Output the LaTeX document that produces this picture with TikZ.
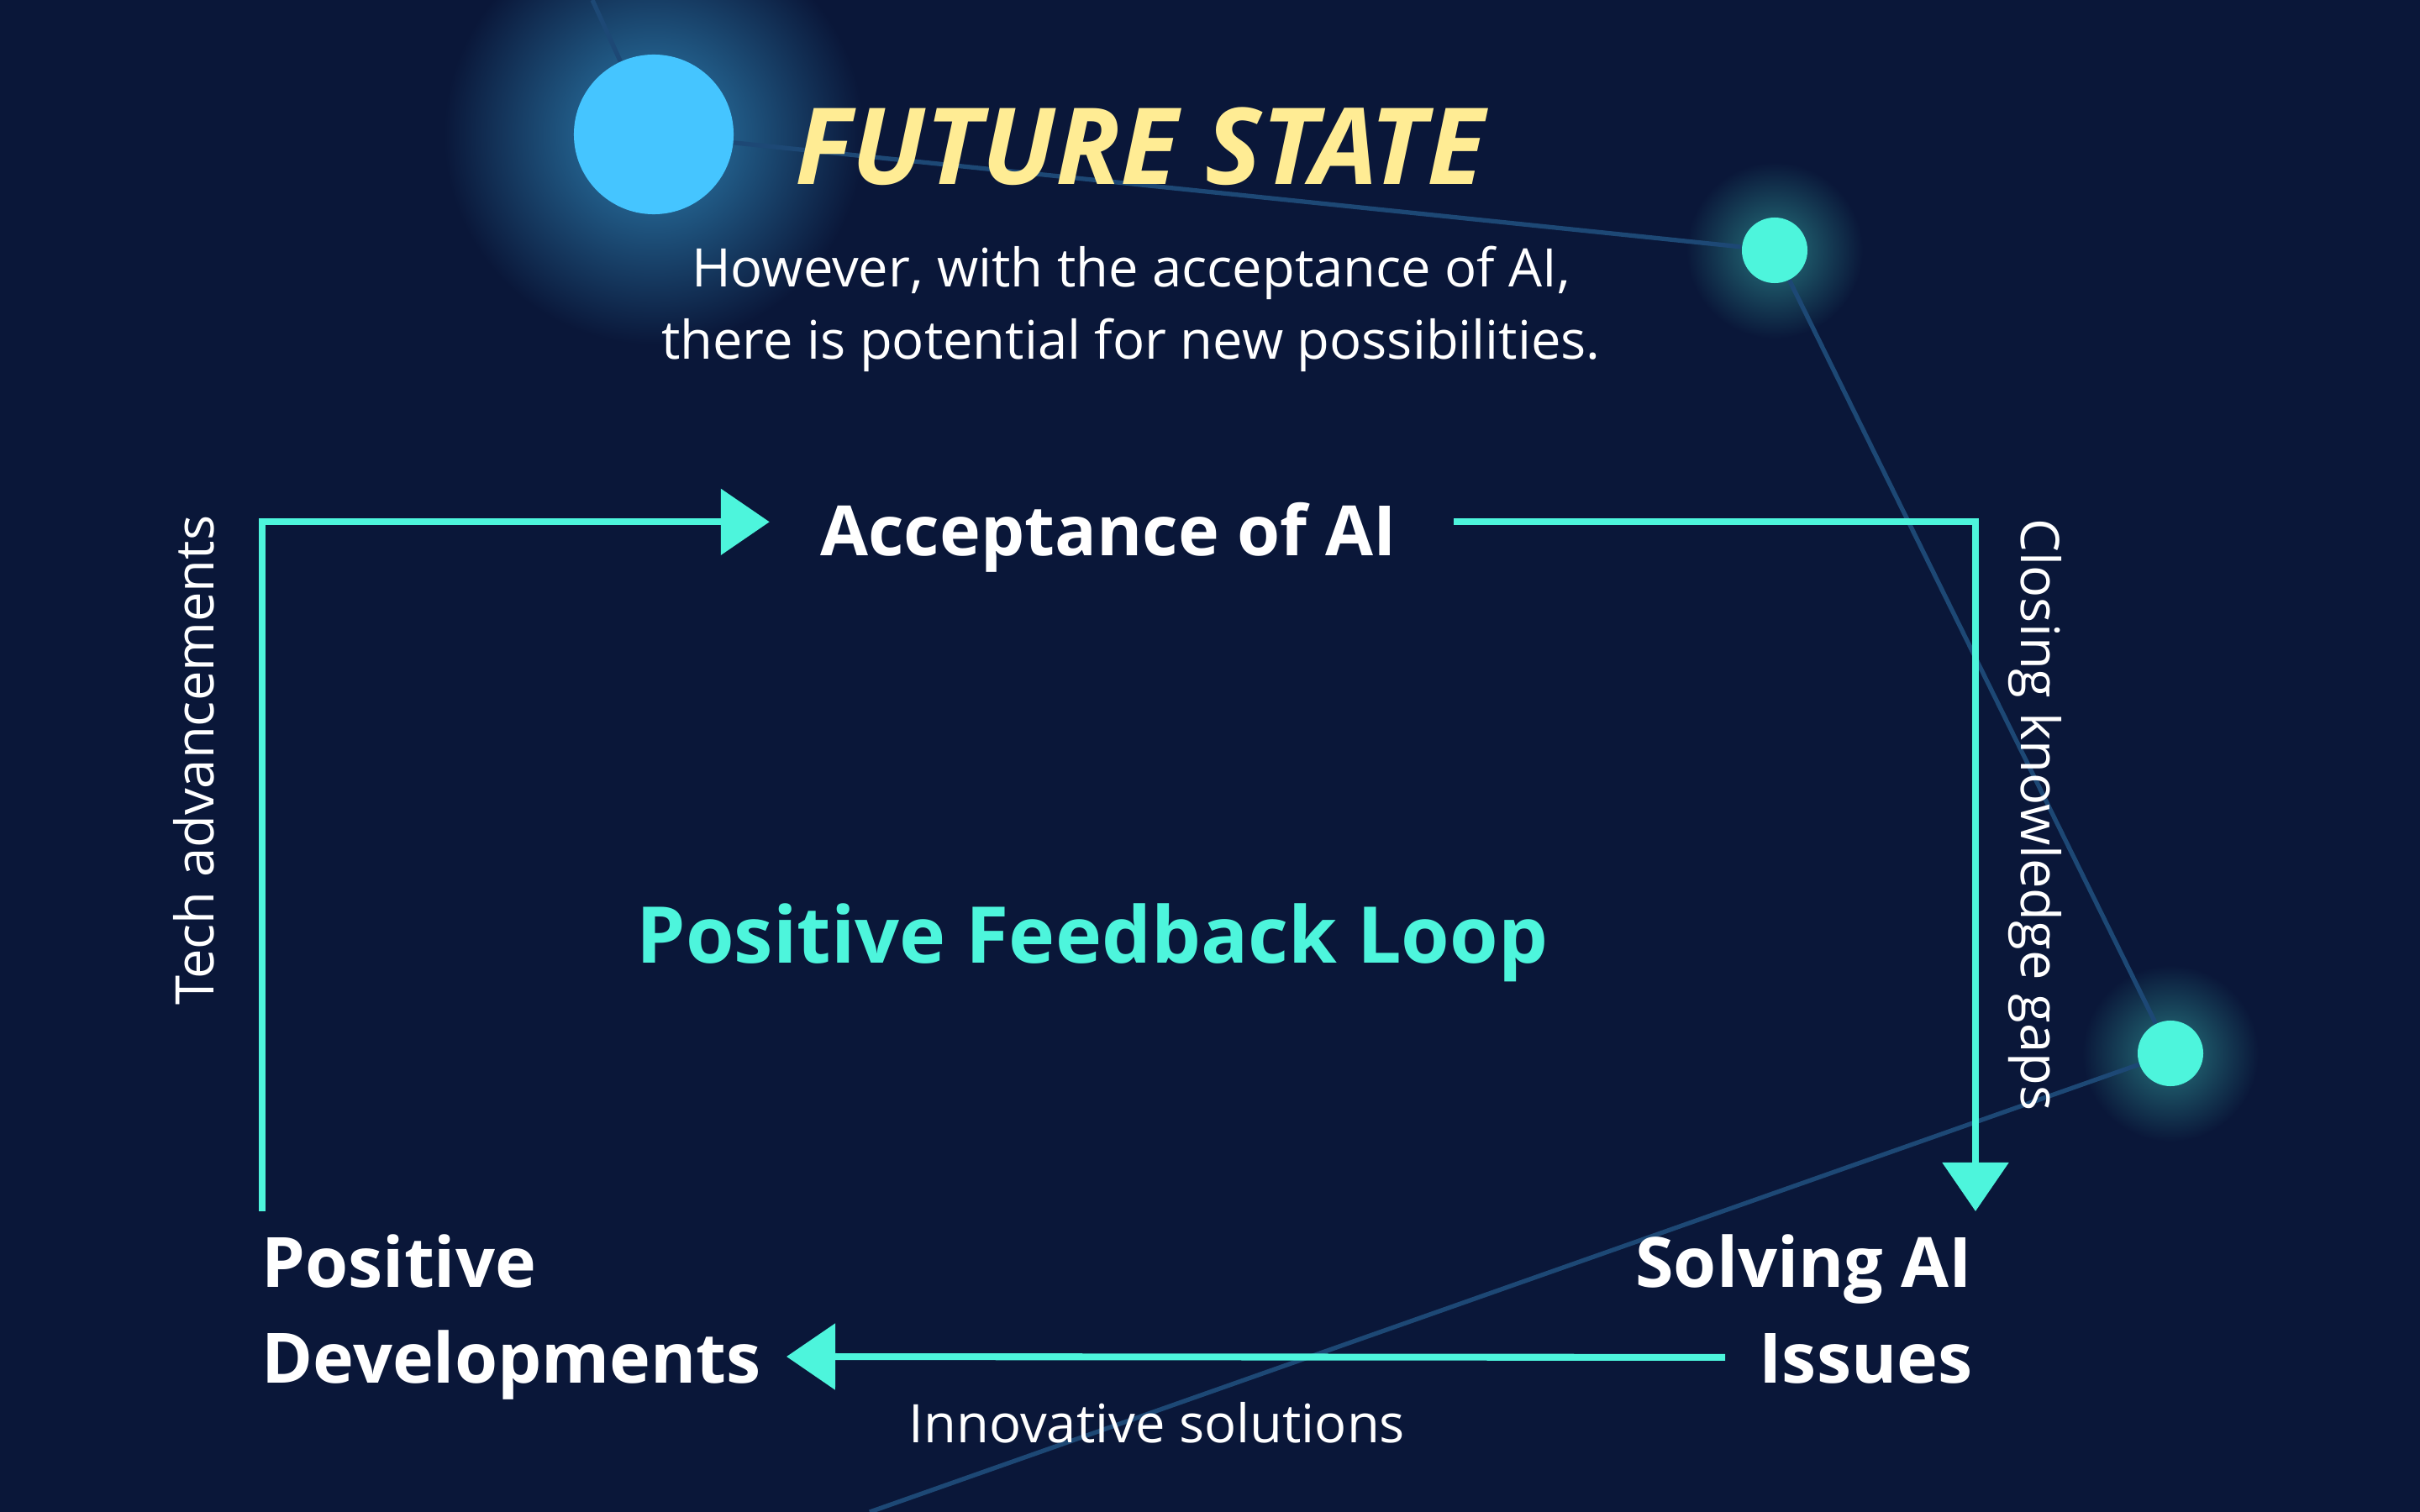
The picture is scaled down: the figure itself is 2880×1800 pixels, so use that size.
\documentclass[tikz,border=0pt]{standalone}
\usepackage{fontspec}
\setmainfont{Open Sans}
\usetikzlibrary{calc, positioning}
\usetikzlibrary{arrows.meta}

\begin{document}
\begin{tikzpicture}[x=0.01cm, y=-0.01cm,
    flow/.style={draw=loopteal, line width=2.3pt, -{Triangle[length=16.5pt, width=22pt]}},
    link/.style={draw=linkblue, line width=1.5pt},
    sunball/.style={circle, fill=skyblue, minimum size=1.9cm, inner sep=0pt},
    starball/.style={circle, fill=loopteal, minimum size=0.78cm, inner sep=0pt},
    boldlabel/.style={text=white, font=\fontsize{23.5}{32.4}\selectfont\bfseries, inner sep=0pt},
    looplabel/.style={text=loopteal, font=\fontsize{26.5}{30}\selectfont\bfseries, inner sep=0pt},
    thinlabel/.style={text=white, font=\fontsize{18}{24.5}\selectfont, inner sep=0pt},
    titlelabel/.style={text=sunyellow, font=\fontsize{36}{40}\selectfont\bfseries\itshape, inner sep=0pt}]
\definecolor{navybg}{HTML}{0A1739}
\definecolor{loopteal}{HTML}{4DF5DC}
\definecolor{skyblue}{HTML}{45C5FF}
\definecolor{sunyellow}{HTML}{FFEC94}
\definecolor{linkblue}{HTML}{1D4875}

\useasboundingbox (0,0) rectangle (2880,1800);
\fill[navybg] (0,0) rectangle (2880,1800);

\coordinate (sunpos) at (778,160);
\coordinate (star1pos) at (2112,298);
\coordinate (star2pos) at (2583,1254);
\coordinate (topedge) at (705,0);
\coordinate (bottomedge) at (1035,1800);

\shade[inner color=skyblue!62!navybg, outer color=navybg] (sunpos) circle (250);
\shade[inner color=loopteal!42!navybg, outer color=navybg] (star1pos) circle (105);
\shade[inner color=loopteal!42!navybg, outer color=navybg] (star2pos) circle (105);

\node[sunball] (sun) at (sunpos) {};
\node[starball] (star1) at (star1pos) {};
\node[starball] (star2) at (star2pos) {};

\draw[link] (topedge) -- (sun) -- (star1) -- (star2) -- (bottomedge);

\node[titlelabel, anchor=base west] (title) at (946,220) {FUTURE STATE};
\node[thinlabel, align=center, anchor=north] (intro) at (1346,292)
    {However, with the acceptance of AI,\\there is potential for new possibilities.};

\node[boldlabel, anchor=base] (accept) at (1319,661) {Acceptance of AI};
\node[looplabel, anchor=base] (loopname) at (1300,1146) {Positive Feedback Loop};
\node[boldlabel, align=left, anchor=north west] (posdev) at (311,1469) {Positive\\Developments};
\node[boldlabel, align=right, anchor=north east] (solve) at (2348,1469) {Solving AI\\Issues};

\node[thinlabel, rotate=90, anchor=base west] (tech) at (254,1197) {Tech advancements};
\node[thinlabel, rotate=-90, anchor=base west] (gaps) at (2405,617) {Closing knowledge gaps};
\node[thinlabel, anchor=base] (innov) at (1377,1717) {Innovative solutions};

\draw[flow] ($(posdev.north west)+(1,-27)$) |- ($(accept.west)+(-60,-18)$);
\draw[flow] ($(accept.east)+(68,-18)$) -| ($(solve.north east)+(3,-27)$);
\draw[flow] ($(solve.south east)+(-295,-32)$) -- ($(posdev.south west)+(625,-52)$);
\end{tikzpicture}
\end{document}
